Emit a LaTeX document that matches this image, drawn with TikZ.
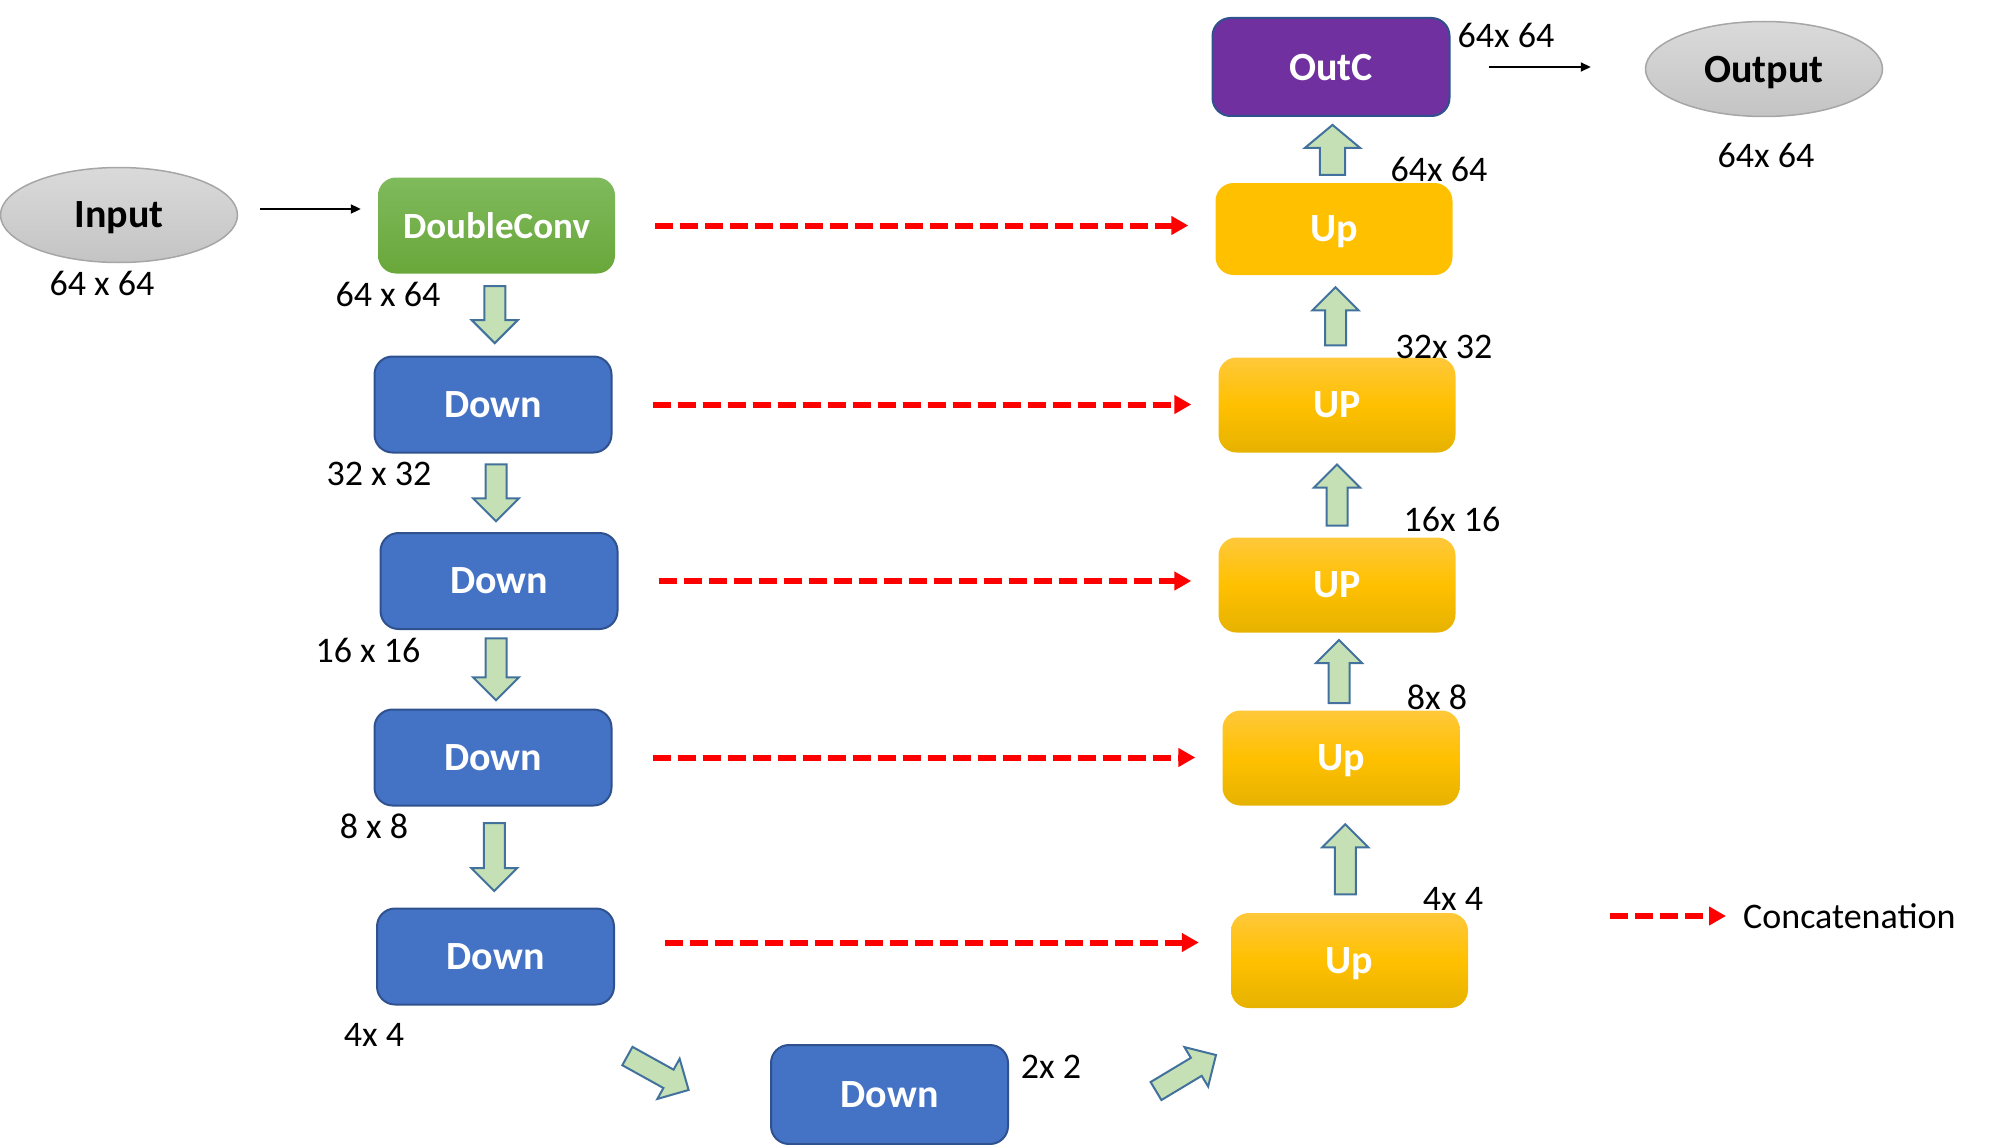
\documentclass[tikz,border=0pt]{standalone}
\usepackage{fontspec}
\setmainfont{Carlito}
\usetikzlibrary{shapes.geometric,arrows.meta,calc}
\definecolor{downblue}{HTML}{4472C4}
\definecolor{downedge}{HTML}{2F528F}
\definecolor{upgold}{HTML}{FFC000}
\definecolor{uptop}{HTML}{FFC83A}
\definecolor{upbot}{HTML}{E6B200}
\definecolor{dcgreenA}{HTML}{7FBA5C}
\definecolor{dcgreenB}{HTML}{69A73A}
\definecolor{outpurple}{HTML}{7030A0}
\definecolor{arrgreen}{HTML}{C5E0B4}
\definecolor{arredge}{HTML}{41719C}
\definecolor{ellA}{HTML}{DADADA}
\definecolor{ellB}{HTML}{C4C4C4}
\definecolor{elledge}{HTML}{A6A6A6}
\begin{document}
\begin{tikzpicture}[x=1pt, y=-1pt,
  block/.style={rectangle, rounded corners=18pt, minimum width=237pt, minimum height=96pt, inner sep=0pt, text depth=0pt, text=white, font=\fontsize{40}{48}\selectfont\bfseries},
  downbox/.style={block, fill=downblue, draw=downedge, line width=2pt},
  upbase/.style={block, minimum height=95pt},
  upbox/.style={upbase, top color=uptop, bottom color=upbot, middle color=upgold},
  dcbox/.style={block, top color=dcgreenA, bottom color=dcgreenB, font=\fontsize{37}{44}\selectfont\bfseries},
  iobox/.style={ellipse, minimum width=237pt, minimum height=95pt, inner sep=0pt, text depth=0pt, top color=ellA, bottom color=ellB, draw=elledge, line width=1.5pt, text=black, font=\fontsize{40}{48}\selectfont\bfseries},
  lbl/.style={inner sep=0pt, text=black, font=\fontsize{36}{43}\selectfont},
  concat/.style={red, line width=6pt, dash pattern=on 18pt off 7pt, -{Triangle[length=17pt,width=18pt]}},
  thinarr/.style={black, line width=2pt, -{Triangle[length=10pt,width=9pt]}},
  blkarrow/.style={fill=arrgreen, draw=arredge, line width=2pt, line join=miter},
  pics/blk/.style={code={
    \draw[blkarrow] (-#1/2,-10.5) -- (#1/2-23,-10.5) -- (#1/2-23,-23) -- (#1/2,0) -- (#1/2-23,23) -- (#1/2-23,10.5) -- (-#1/2,10.5) -- cycle;
  }}
]
\useasboundingbox (0,0) rectangle (2000,1145);
\node[iobox] (in) at (119,215) {Input};
\node[dcbox] (dc) at (496.5,225.5) {DoubleConv};
\node[downbox] (d1) at (493,404.5) {Down};
\node[downbox] (d2) at (499,581) {Down};
\node[downbox] (d3) at (493,757.5) {Down};
\node[downbox] (d4) at (495.5,956.5) {Down};
\node[downbox, minimum height=99pt] (d5) at (889.5,1094.5) {Down};
\node[upbox] (u5) at (1349.5,960.5) {Up};
\node[upbox] (u4) at (1341,758) {Up};
\node[upbox] (u3) at (1337,585) {UP};
\node[upbox] (u2) at (1337,405) {UP};
\node[upbase, fill=upgold, minimum height=92pt] (u1) at (1334,229) {Up};
\node[block, fill=outpurple, draw=downedge, line width=2pt, minimum height=98pt] (oc) at (1331,67) {OutC};
\node[iobox] (out) at (1764,69) {Output};

\node[lbl] (sin) at (102,283) {64 x 64};
\node[lbl] (sdc) at (388,294) {64 x 64};
\node[lbl] (sd1) at (379,474) {32 x 32};
\node[lbl] (sd2) at (368,650) {16 x 16};
\node[lbl] (sd3) at (374,826) {8 x 8};
\node[lbl] (sd4) at (374,1035) {4x 4};
\node[lbl] (sd5) at (1051,1067) {2x 2};
\node[lbl] (su5) at (1453,899) {4x 4};
\node[lbl] (su4) at (1437,697) {8x 8};
\node[lbl] (su3) at (1452,519) {16x 16};
\node[lbl] (su2) at (1444,347) {32x 32};
\node[lbl] (su1) at (1439,169) {64x 64};
\node[lbl] (soc) at (1506,35) {64x 64};
\node[lbl] (sout) at (1766,155) {64x 64};
\node[lbl, anchor=west] (lgt) at (1743,916) {Concatenation};
\coordinate (lgs) at (1610,916);

\draw[thinarr] ([xshift=22pt,yshift=6pt]in.east) -- ([xshift=-17pt,yshift=6pt]dc.west |- in.east);
\draw[thinarr] ([xshift=38pt]oc.east) -- ([xshift=-54pt]out.west |- oc.east);

\foreach \a/\b in {dc/u1, d1/u2, d2/u3, d3/u4}
  \draw[concat] ([xshift=40pt]\a.east) -- ([xshift=-27pt]\b.west |- \a.east);
\draw[concat] ([xshift=50pt,yshift=14pt]d4.east) -- ([xshift=-32pt,yshift=14pt]u5.west |- d4.east);
\draw[concat] (lgs) -- ([xshift=-17pt]lgt.west);

\pic[rotate=-90] at ($(dc.south)!0.5!(d1.north)$) {blk=57};
\pic[rotate=-90] at ($(d1.south)!0.5!(d2.north)$) {blk=57};
\pic[rotate=-90] at ($(d2.south)!0.5!(d3.north)$) {blk=62};
\pic[rotate=-90] at ($(d3.south)!0.5!(d4.north)$) {blk=68};
\pic[rotate=-29] at (658,1073) {blk=70};
\pic[rotate=31] at (1186,1073) {blk=70};
\pic[rotate=90] at ($(u5.north)!0.5!(u4.south)$) {blk=70};
\pic[rotate=90] at ($(u4.north)!0.5!(u3.south)$) {blk=63};
\pic[rotate=90] at ($(u3.north)!0.5!(u2.south)$) {blk=61};
\pic[rotate=90] at ($(u2.north)!0.5!(u1.south)$) {blk=58};
\pic[rotate=90, yscale=1.2] at ($(u1.north)!0.5!(oc.south)$) {blk=50};
\end{tikzpicture}
\end{document}
